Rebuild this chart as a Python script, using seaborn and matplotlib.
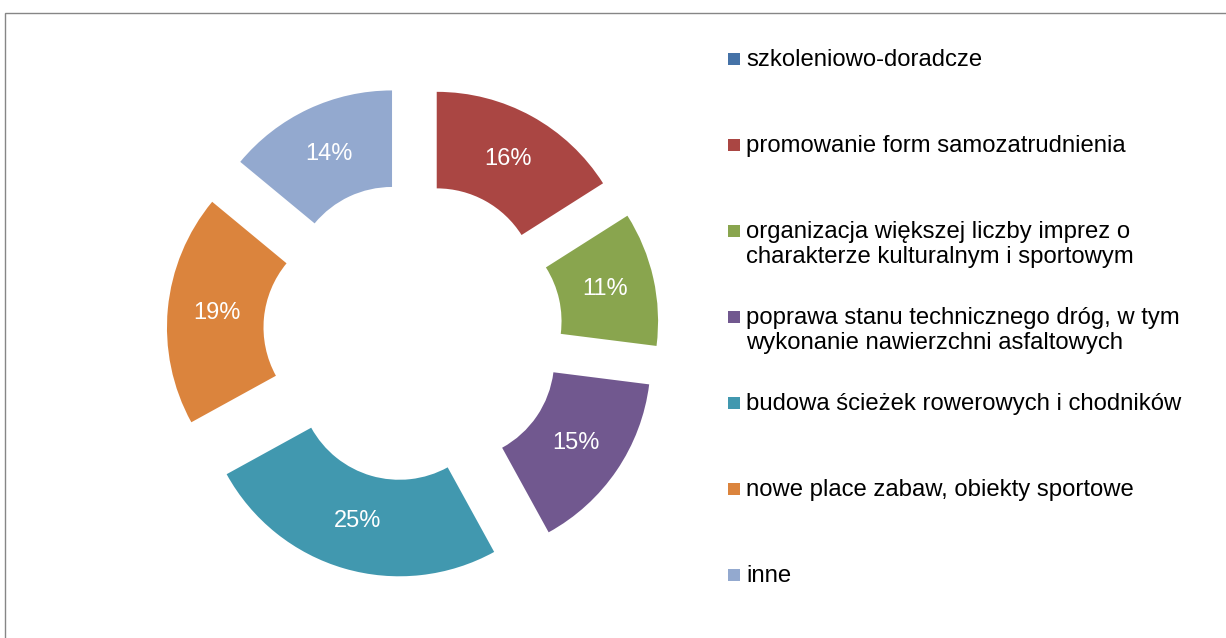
import matplotlib
matplotlib.use("Agg")
import matplotlib.pyplot as plt
from matplotlib.patches import Rectangle
import seaborn as sns

# --- DATA ---
categories = [
    "szkoleniowo-doradcze",
    "promowanie form samozatrudnienia",
    "organizacja większej liczby imprez o\ncharakterze kulturalnym i sportowym",
    "poprawa stanu technicznego dróg, w tym\nwykonanie nawierzchni asfaltowych",
    "budowa ścieżek rowerowych i chodników",
    "nowe place zabaw, obiekty sportowe",
    "inne",
]
shares = [0, 16, 11, 15, 25, 19, 14]
colors = ["#4572A7", "#AA4643", "#89A54E", "#71588F", "#4198AF", "#DB843D", "#93A9CF"]

sns.set_theme(style="white")
plt.rcParams["font.family"] = ["Liberation Sans", "DejaVu Sans"]

W, H = 1226, 638
fig = plt.figure(figsize=(W / 100, H / 100), dpi=100)
fig.patch.set_facecolor("white")

# donut: centre (413, 332) px, outer radius 197 px
cx, cy, R = 413, 332, 197
lim = 1.3
ax = fig.add_axes([(cx - lim * R) / W, (H - cy - lim * R) / H,
                   2 * lim * R / W, 2 * lim * R / H])

wedges, texts, autotexts = ax.pie(
    shares,
    colors=colors,
    startangle=90,
    counterclock=False,
    explode=[0.25] * len(shares),
    radius=1.0,
    pctdistance=0.75,
    autopct=lambda p: f"{p:.0f}%" if p >= 0.5 else "",
    wedgeprops=dict(width=0.49, linewidth=0),
    textprops=dict(color="white", fontsize=17),
)
ax.set_xlim(-lim, lim)
ax.set_ylim(-lim, lim)
ax.set_aspect("equal")
ax.axis("off")

# legend drawn by hand so that rows sit on a fixed grid like the original
top0, step = 49, 86
for i, (lab, col) in enumerate(zip(categories, colors)):
    ytop = top0 + i * step
    fig.patches.append(Rectangle((728 / W, 1 - (ytop + 16) / H), 12 / W, 12 / H,
                                 transform=fig.transFigure, facecolor=col,
                                 edgecolor="none"))
    fig.text(746 / W, 1 - ytop / H, lab, ha="left", va="top",
             fontsize=17.2, color="#000000", linespacing=1.17)

# chart frame (runs off the right/bottom edge)
fig.patches.append(Rectangle((4.5 / W, -0.1), 1.2, 1.1 - 12.5 / H,
                             transform=fig.transFigure, facecolor="none",
                             edgecolor="#868686", linewidth=1.0))

fig.savefig("out.png", dpi=100, facecolor="white")
